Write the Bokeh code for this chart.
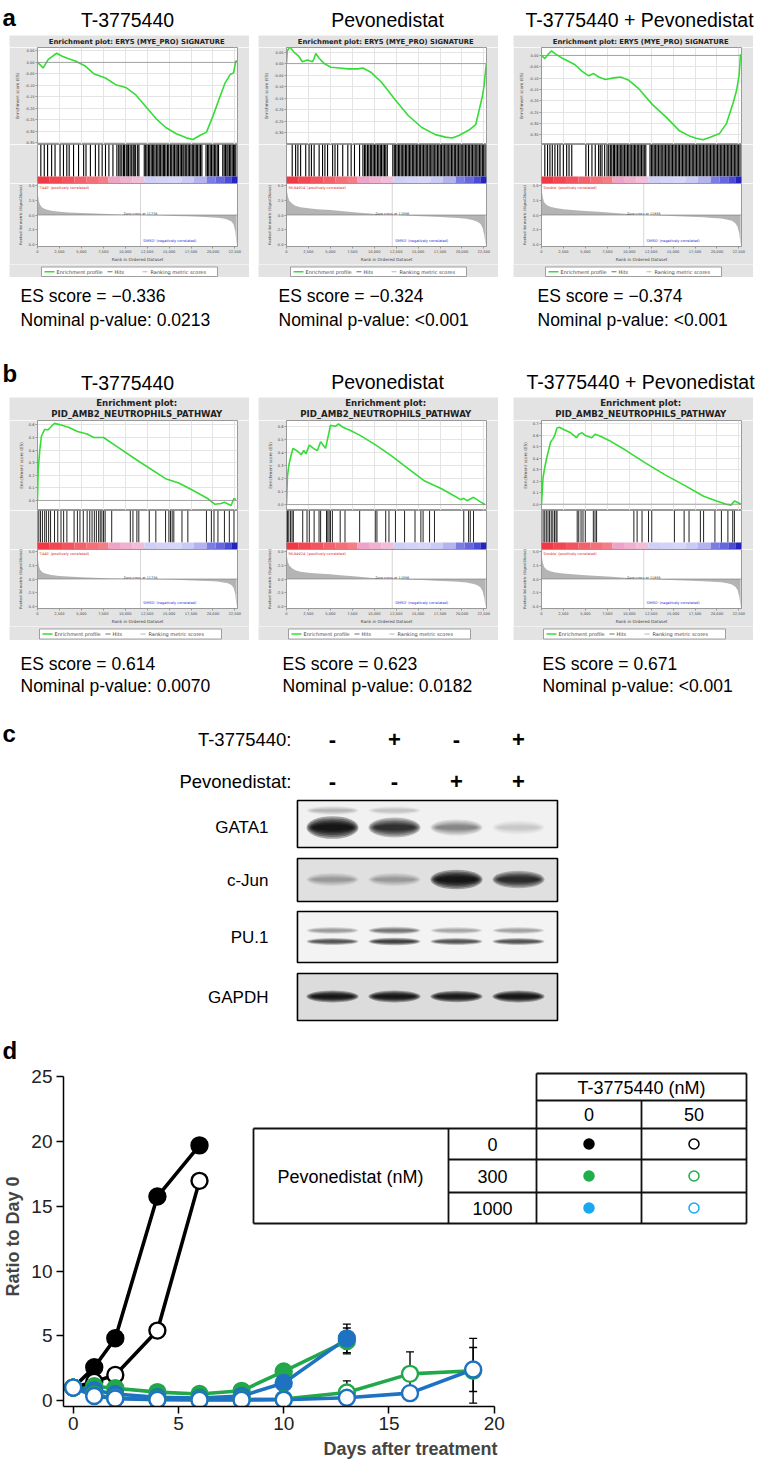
import numpy as np
from bokeh.plotting import figure
from bokeh.layouts import column, row
from bokeh.models import (Range1d, FixedTicker, PrintfTickFormatter, NumeralTickFormatter,
                          Span, Grid, Spacer)
from bokeh.core.properties import value
from bokeh.embed import file_html
from bokeh.resources import INLINE

# ============================ DATA ============================
col_titles = ["T-3775440", "Pevonedistat", "T-3775440 + Pevonedistat"]
es_scores_a = ["\u22120.336", "\u22120.324", "\u22120.374"]
pvals_a = ["0.0213", "<0.001", "<0.001"]
es_scores_b = ["0.614", "0.623", "0.671"]
pvals_b = ["0.0070", "0.0182", "<0.001"]
gsea_title_a = ["Enrichment plot: ERY5 (MYE_PRO) SIGNATURE"]
gsea_title_b = ["Enrichment plot:", "PID_AMB2_NEUTROPHILS_PATHWAY"]
pos_labels = ["'T440' (positively correlated)", "'MLN4924' (positively correlated)",
              "'Double' (positively correlated)"]
neg_label = "'DMSO' (negatively correlated)"
zero_cross = [11738, 12056, 11655]
rank_max = 22800
rank_ticks = [0, 2500, 5000, 7500, 10000, 12500, 15000, 17500, 20000, 22500]
legend_labels = ["Enrichment profile", "Hits", "Ranking metric scores"]

# --- running enrichment score curves (rank, ES) ---
a1_rank = [0, 650, 1230, 2190, 2760, 3530, 4300, 5450, 6410, 7750, 8910, 10060, 11210, 12360, 13510,
           14660, 15820, 16970, 17730, 18500, 19270, 20040, 20810, 21380, 21960, 22340, 22610, 22750]
a1_es = [0.0, -0.024, 0.013, 0.040, 0.028, 0.016, 0.006, -0.016, -0.049, -0.068, -0.097, -0.109, -0.142,
         -0.193, -0.245, -0.285, -0.311, -0.329, -0.336, -0.319, -0.304, -0.230, -0.149, -0.090, -0.053,
         -0.046, 0.006, 0.005]
a2_rank = [0, 80, 380, 840, 1420, 1800, 2380, 2960, 3150, 3340, 3720, 4300, 5070, 6030, 6990, 8140, 8710,
           9670, 10830, 12360, 13900, 15430, 16970, 18120, 18890, 19650, 20810, 21570, 21960, 22340, 22530,
           22780]
a2_es = [0.0, 0.055, 0.073, 0.050, 0.031, 0.008, 0.016, 0.008, 0.023, 0.044, 0.023, 0.0, -0.016, -0.019,
         -0.023, -0.023, -0.019, -0.039, -0.081, -0.156, -0.227, -0.278, -0.309, -0.320, -0.324, -0.313,
         -0.289, -0.266, -0.203, -0.141, -0.094, 0.0]
a3_rank = [0, 380, 770, 1150, 1530, 2300, 3070, 3830, 4600, 5370, 5940, 6520, 7280, 8240, 9010, 9960,
           11110, 12650, 14180, 15710, 16860, 17630, 18400, 19160, 20310, 21080, 21850, 22230, 22530, 22690]
a3_es = [0.0, -0.014, 0.005, 0.020, 0.008, -0.011, -0.026, -0.041, -0.069, -0.090, -0.080, -0.095, -0.106,
         -0.099, -0.095, -0.110, -0.148, -0.217, -0.271, -0.332, -0.355, -0.365, -0.372, -0.362, -0.344,
         -0.301, -0.209, -0.156, -0.087, 0.005]
b1_rank = [0, 75, 260, 447, 820, 1190, 1565, 1940, 2680, 3610, 4545, 5660, 6410, 7530, 9020, 11620, 14600,
           16100, 17590, 19450, 20190, 20940, 21310, 22060, 22400, 22620]
b1_es = [0.0, 0.24, 0.40, 0.51, 0.565, 0.56, 0.587, 0.612, 0.60, 0.58, 0.547, 0.528, 0.50, 0.50, 0.43,
         0.307, 0.173, 0.139, 0.085, 0.013, -0.030, -0.025, -0.015, -0.040, 0.015, 0.008]
b2_rank = [0, 110, 260, 480, 740, 1300, 1670, 1970, 2220, 2600, 3150, 3520, 3890, 4450, 4820, 5010, 5560,
           5930, 6490, 7230, 8340, 10200, 12050, 13900, 15760, 17610, 19100, 19840, 20200, 20580, 21320,
           22060, 22620]
b2_es = [0.0, 0.22, 0.30, 0.37, 0.435, 0.41, 0.385, 0.418, 0.392, 0.46, 0.43, 0.418, 0.486, 0.435, 0.55,
         0.613, 0.605, 0.623, 0.595, 0.575, 0.537, 0.46, 0.372, 0.276, 0.182, 0.124, 0.068, 0.038, 0.048,
         0.030, 0.056, 0.023, 0.0]
b3_rank = [0, 180, 370, 550, 810, 1030, 1290, 1480, 1770, 2030, 2590, 3330, 3990, 4250, 4620, 4990, 5730,
           6100, 6650, 7760, 9610, 11830, 14040, 16260, 18480, 19960, 21060, 21620, 21990, 22360, 22730]
b3_es = [0.0, 0.235, 0.32, 0.39, 0.47, 0.54, 0.57, 0.595, 0.665, 0.671, 0.65, 0.623, 0.58, 0.61, 0.623,
         0.60, 0.58, 0.61, 0.595, 0.554, 0.47, 0.36, 0.258, 0.166, 0.069, 0.028, 0.0, -0.008, 0.028, 0.014,
         0.0]

# --- hit positions (ranks of gene-set members) ---
a1_hits = [380, 770, 1150, 1610, 2000, 2570, 2960, 3340, 3610, 4110, 4680, 5260, 5530, 6030, 6600, 6990,
           7370, 7750, 8140, 8600, 9050, 9260, 9420, 9610, 9800, 9930, 10120, 10290, 10380, 10560, 10740,
           10910, 11030, 11190, 11420, 11560, 12170, 12330, 12480, 12650, 12790, 12960, 13120, 13250, 13400,
           13580, 13720, 13880, 14010, 14190, 14350, 14470, 14640, 14820, 14960, 15150, 15300, 15470, 15620,
           15790, 15930, 16080, 16260, 16410, 16570, 16690, 16850, 17010, 17180, 17320, 17490, 17650, 17800,
           17960, 18110, 18250, 18420, 18580, 18740, 19210, 19380, 19520, 19690, 19840, 20010, 20170, 20320,
           20490, 20640, 21120, 21280, 21430, 21590, 21720, 21880, 22030, 22190, 22340, 22480, 22610]
a2_hits = [650, 1040, 1300, 1610, 2190, 2570, 2840, 3150, 3720, 4110, 4380, 4680, 5260, 5530, 5830, 6410,
           6990, 7370, 7750, 8330, 8710, 8890, 9040, 9230, 9380, 9560, 9710, 9880, 10040, 10190, 10370,
           10520, 10690, 10830, 11010, 11170, 11320, 11490, 12120, 12290, 12440, 12600, 12770, 12910, 13080,
           13240, 13390, 13560, 13700, 13870, 14030, 14180, 14350, 14500, 14660, 14830, 14970, 15140, 15290,
           15460, 15610, 15780, 15930, 16090, 16260, 16400, 16570, 16720, 16890, 17040, 17210, 17360, 17530,
           17680, 17850, 18000, 18170, 18320, 18490, 18640, 18810, 18960, 19130, 19280, 19450, 19600, 19770,
           19920, 20090, 20240, 20410, 20560, 20730, 20880, 21050, 21200, 21370, 21520, 21690, 21840, 22010,
           22160, 22330, 22480, 22640]
a3_hits = [380, 690, 960, 1230, 1530, 1840, 2110, 2490, 2870, 3140, 3450, 5060, 5360, 5750, 6130, 6510, 6700,
           6900, 7200, 7470, 7660, 7850, 8010, 8190, 8320, 8500, 8660, 8830, 8990, 9150, 9300, 9470, 9630,
           9800, 9950, 10110, 10280, 10440, 10600, 10750, 10920, 11080, 11240, 11400, 11570, 11720, 11890,
           12370, 12530, 12690, 12850, 13010, 13170, 13330, 13500, 13650, 13820, 13980, 14140, 14300, 14460,
           14620, 14780, 14940, 15100, 15260, 15420, 15590, 15740, 15910, 16070, 16230, 16390, 16550, 16710,
           16870, 17030, 17190, 17350, 17510, 17670, 17830, 17990, 18150, 18310, 18470, 18630, 18790, 18950,
           19110, 19270, 19430, 19590, 19750, 19910, 20070, 20230, 20390, 20550, 20710, 20870, 21030, 21190,
           21350, 21510, 21670, 21830, 21990, 22150, 22310, 22470, 22630]
b1_hits = [150, 340, 560, 820, 1010, 1270, 1490, 1940, 2310, 2680, 2980, 3350, 4170, 4550, 4840, 5220, 5660,
           5960, 6220, 6480, 6710, 6970, 7150, 7340, 7530, 7710, 8460, 10580, 10880, 11330, 11550, 12740,
           13490, 14600, 14980, 15160, 15350, 15540, 16470, 17140, 19260, 19820, 20120, 20570, 21310, 21870,
           22400]
b2_hits = [110, 260, 450, 630, 780, 1850, 2340, 2600, 3150, 3710, 3890, 4560, 4710, 4860, 5010, 5230, 6120,
           6670, 8340, 10120, 10310, 11310, 11680, 12420, 13460, 14650, 15320, 15570, 16310, 16870, 20210,
           20760, 20950, 21320]
b3_hits = [180, 370, 550, 740, 920, 1110, 1290, 1480, 1660, 1770, 4070, 4250, 4510, 4730, 4990, 5910, 6100,
           6280, 10530, 10900, 11460, 12200, 12570, 15150, 16260, 16820, 18110, 18480, 19770, 20510, 21250,
           21800, 21990]

# --- ranked list metric (signal-to-noise) ---
metric_rank = [0, 50, 150, 300, 600, 1000, 1600, 2500, 3500, 5000, 6500, 8000, 9500, 11000, 12500, 14000,
               15500, 17000, 18500, 19500, 20500, 21200, 21700, 22100, 22350, 22550, 22700]
metric_T = [5.2, 3.6, 2.4, 1.7, 1.2, 0.95, 0.75, 0.55, 0.45, 0.33, 0.24, 0.16, 0.09, 0.03, -0.04, -0.10,
            -0.16, -0.22, -0.30, -0.38, -0.48, -0.62, -0.80, -1.10, -1.60, -2.80, -5.2]
metric_P = [5.2, 4.2, 3.2, 2.5, 2.0, 1.6, 1.35, 1.15, 1.0, 0.85, 0.65, 0.45, 0.25, 0.1, -0.02, -0.12, -0.2,
            -0.3, -0.42, -0.52, -0.65, -0.85, -1.1, -1.5, -2.2, -3.5, -5.2]
metric_D = [5.2, 4.0, 3.0, 2.2, 1.7, 1.4, 1.2, 1.0, 0.85, 0.7, 0.55, 0.4, 0.22, 0.06, -0.06, -0.14, -0.22,
            -0.3, -0.4, -0.5, -0.6, -0.8, -1.0, -1.4, -2.0, -3.2, -5.2]

# --- phenotype colour bar ---
cbar_edges = [0, 1400, 2800, 4200, 5600, 7000, 8100, 9500, 10800, 12200, 13600, 15000, 16400, 17800, 19300,
              20300, 21300, 22100, 22800]
cbar_colors = ["#ef3a45", "#f04752", "#f1545f", "#f2626c", "#f37079", "#f47e88", "#eea4c6", "#f0b0cf",
               "#f2bdd8", "#cdcff5", "#d2d3f7", "#d5d6f8", "#cacbf4", "#b3b4ef", "#7c7de3", "#6667dd",
               "#4b4cd4", "#2324bd"]

# --- panel c: western blot ---
t_signs = ["-", "+", "-", "+"]
pev_signs = ["-", "-", "+", "+"]
blot_proteins = ["GATA1", "c-Jun", "PU.1", "GAPDH"]
gata1_int = [1.0, 0.72, 0.28, 0.08]
gata1_upper_int = [0.14, 0.10, 0.0, 0.0]
cjun_int = [0.18, 0.18, 1.0, 0.75]
pu1_upper_int = [0.22, 0.35, 0.18, 0.2]
pu1_lower_int = [0.5, 0.62, 0.5, 0.5]
gapdh_int = [0.95, 0.95, 0.92, 0.95]

# --- panel d: proliferation ---
days_a = [0, 1, 2, 4, 6]
ctrl_filled = [1.0, 2.57, 4.81, 15.75, 19.7]
ctrl_filled_sd = [0, 0.1, 0.15, 0.3, 0.4]
ctrl_open = [1.0, 1.45, 1.98, 5.4, 16.96]
ctrl_open_sd = [0, 0.1, 0.1, 0.2, 0.3]
days_b = [0, 1, 2, 4, 6, 8, 10, 13]
pev300_filled = [1.0, 1.1, 0.95, 0.65, 0.5, 0.75, 2.25, 4.6]
pev300_filled_sd = [0, 0, 0, 0, 0, 0, 0.1, 1.0]
pev1000_filled = [1.0, 0.8, 0.5, 0.25, 0.2, 0.35, 1.35, 4.8]
pev1000_filled_sd = [0, 0, 0, 0, 0, 0, 0.15, 1.1]
days_c = [0, 1, 2, 4, 6, 8, 10, 13, 16, 19]
pev300_open = [1.0, 0.45, 0.2, 0.1, 0.08, 0.08, 0.12, 0.62, 2.06, 2.3]
pev300_open_sd = [0, 0, 0, 0, 0, 0, 0, 0.9, 1.7, 2.5]
pev1000_open = [1.0, 0.35, 0.15, 0.06, 0.05, 0.05, 0.06, 0.22, 0.57, 2.4]
pev1000_open_sd = [0, 0, 0, 0, 0, 0, 0, 0.1, 0.3, 1.7]
x_ticks_d = [0, 5, 10, 15, 20]
y_ticks_d = [0, 5, 10, 15, 20, 25]
tbl_t_conc = ["0", "50"]
tbl_pev_conc = ["0", "300", "1000"]

# ============================ STYLE ============================
SANS = "Liberation Sans"
GS = "DejaVu Sans"
BOX = "#e3e3e3"
ES_GREEN = "#36dc36"
D_GREEN = "#22a84b"
D_BLUE = "#1f71c2"
T_GREEN = "#1fae4b"
T_BLUE = "#18a8ee"
PAGE_W = 760
W = 240
LB, RB = 28, 12


def mkfig(**kw):
    p = figure(toolbar_location=None, output_backend="svg", **kw)
    if "frame_align" in p.properties():
        p.frame_align = False
    return p


def put_text(p, xs, ys, texts, size, align="left", bold=False, color="black", font=SANS, angle=0,
             baseline="middle", **kw):
    p.text(x=xs, y=ys, text=texts, text_font=value(font), text_font_size=size, text_align=align,
           text_baseline=baseline, text_color=color, text_font_style=("bold" if bold else "normal"),
           angle=angle, **kw)


def strip(y0, y1):
    p = mkfig(width=PAGE_W, height=y1 - y0, x_range=Range1d(0, PAGE_W), y_range=Range1d(y1, y0),
              x_axis_type=None, y_axis_type=None,
              min_border_left=0, min_border_right=0, min_border_top=0, min_border_bottom=0)
    p.outline_line_color = None
    return p


def style_small_axis(ax):
    ax.major_label_text_font = GS
    ax.major_label_text_font_size = "3.6px"
    ax.major_label_text_color = "#444444"
    ax.axis_label_text_font = GS
    ax.axis_label_text_font_size = "4.2px"
    ax.axis_label_text_font_style = "normal"
    ax.axis_label_text_color = "#444444"
    ax.major_tick_out = 2
    ax.major_tick_in = 0
    ax.minor_tick_out = 0
    ax.minor_tick_in = 0
    ax.major_label_standoff = 1
    ax.axis_label_standoff = 1
    ax.axis_line_color = "#999999"
    ax.major_tick_line_color = "#999999"


def gsea(title_lines, title_size, title_ys, es_rank, es_vals, es_lo, es_hi, es_ticks, es_fmt,
         hits, hit_w, hit_color, met_vals, zc, pos_label, hdr_h, es_h, met_h, leg_h, leg_box):
    # header
    hdr = mkfig(width=W, height=hdr_h, x_range=Range1d(0, 1), y_range=Range1d(0, 1),
                x_axis_type=None, y_axis_type=None,
                min_border_left=0, min_border_right=0, min_border_top=0, min_border_bottom=0)
    hdr.outline_line_color = None
    hdr.background_fill_color = BOX
    hdr.border_fill_color = BOX
    put_text(hdr, [0.53] * len(title_lines), title_ys, title_lines, title_size, align="center",
             bold=True, font=GS, color="#222222")

    # enrichment score
    es = mkfig(width=W, height=es_h, x_range=Range1d(0, rank_max), y_range=Range1d(es_lo, es_hi),
               x_axis_type=None,
               min_border_left=LB, min_border_right=RB, min_border_top=0, min_border_bottom=0)
    es.border_fill_color = BOX
    es.outline_line_color = "#999999"
    ya = es.yaxis[0]
    ya.ticker = FixedTicker(ticks=es_ticks)
    ya.formatter = PrintfTickFormatter(format=es_fmt)
    ya.axis_label = "Enrichment score (ES)"
    style_small_axis(ya)
    ya.axis_label_standoff = 2
    es.ygrid.ticker = FixedTicker(ticks=es_ticks)
    es.ygrid.grid_line_color = "#e4e4e4"
    es.add_layout(Grid(dimension=0, ticker=FixedTicker(ticks=rank_ticks), grid_line_color="#e4e4e4"))
    es.add_layout(Span(location=0, dimension="width", line_color="#888888", line_width=0.7))
    es.line(es_rank, es_vals, color=ES_GREEN, line_width=1.6)

    # hits + colour bar
    ht = mkfig(width=W, height=39, x_range=Range1d(0, rank_max), y_range=Range1d(0, 1),
               x_axis_type=None, y_axis_type=None,
               min_border_left=LB, min_border_right=RB, min_border_top=0, min_border_bottom=0)
    ht.border_fill_color = BOX
    ht.outline_line_color = "#999999"
    ht.segment(x0=hits, y0=0.18, x1=hits, y1=1.0, line_color=hit_color, line_width=hit_w)
    ht.quad(left=cbar_edges[:-1], right=cbar_edges[1:], bottom=0, top=0.18, fill_color=cbar_colors,
            line_color=None)

    # ranked list metric
    mt = mkfig(width=W, height=met_h, x_range=Range1d(0, rank_max), y_range=Range1d(-5.4, 5.4),
               min_border_left=LB, min_border_right=RB, min_border_top=0, min_border_bottom=16)
    mt.border_fill_color = BOX
    mt.outline_line_color = "#999999"
    mt.grid.visible = False
    mt.varea(x=metric_rank, y1=0, y2=met_vals, fill_color="#b4b4b4")
    mt.add_layout(Span(location=0, dimension="width", line_color="#777777", line_width=0.6))
    mt.add_layout(Span(location=zc, dimension="height", line_color="#777777", line_width=0.6,
                       line_dash="1 1"))
    put_text(mt, [zc], [0.15], ["Zero cross at %d" % zc], "3.4px", align="center", font=GS,
             color="#333333")
    put_text(mt, [150], [4.55], [pos_label], "3.5px", font=GS, color="#e0262b")
    put_text(mt, [zc + 250], [-4.45], [neg_label], "3.5px", font=GS, color="#2a2ad8")
    xa = mt.xaxis[0]
    xa.ticker = FixedTicker(ticks=rank_ticks)
    xa.formatter = NumeralTickFormatter(format="0,0")
    xa.axis_label = "Rank in Ordered Dataset"
    ya = mt.yaxis[0]
    ya.ticker = FixedTicker(ticks=[-5, -2.5, 0, 2.5, 5])
    ya.formatter = PrintfTickFormatter(format="%.1f")
    ya.axis_label = "Ranked list metric (Signal2Noise)"
    style_small_axis(xa)
    style_small_axis(ya)
    ya.axis_label_text_font_size = "3.6px"

    # legend strip (pixel coordinates of the strip)
    lg = mkfig(width=W, height=leg_h, x_range=Range1d(0, W), y_range=Range1d(0, leg_h),
               x_axis_type=None, y_axis_type=None,
               min_border_left=0, min_border_right=0, min_border_top=0, min_border_bottom=0)
    lg.outline_line_color = None
    lg.background_fill_color = BOX
    lg.border_fill_color = BOX
    bx0, bx1, by0, by1 = leg_box
    ym = (by0 + by1) / 2
    lg.quad(left=[bx0], right=[bx1], bottom=[by0], top=[by1], fill_color="white",
            line_color="#8a8a8a", line_width=0.8)
    lg.segment(x0=[bx0 + 3, bx0 + 66, bx0 + 101], y0=[ym] * 3, x1=[bx0 + 13, bx0 + 71, bx0 + 106],
               y1=[ym] * 3, line_color=[ES_GREEN, "#333333", "#999999"], line_width=[1.5, 0.7, 0.7])
    put_text(lg, [bx0 + 15, bx0 + 73, bx0 + 109], [ym] * 3, legend_labels, "5px", font=GS,
             color="#444444")
    return column(hdr, es, ht, mt, lg, spacing=0)


# ============================ PANEL A / B ============================
hdrA_ys = [0.5]
hdrB_ys = [0.78, 0.30]
legA = (32, 208, 1, 10.5)
legB = (30, 212, 1.5, 11.5)
gA = [
    gsea(gsea_title_a, "6.8px", hdrA_ys, a1_rank, a1_es, -0.358, 0.065,
         [0.05, 0.0, -0.05, -0.1, -0.15, -0.2, -0.25, -0.3, -0.35], "%.2f", a1_hits, 1.1, "black",
         metric_T, zero_cross[0], pos_labels[0], 12, 97, 81, 13, legA),
    gsea(gsea_title_a, "6.8px", hdrA_ys, a2_rank, a2_es, -0.352, 0.07,
         [0.05, 0.0, -0.05, -0.1, -0.15, -0.2, -0.25, -0.3], "%.2f", a2_hits, 1.1, "black",
         metric_P, zero_cross[1], pos_labels[1], 12, 97, 81, 13, legA),
    gsea(gsea_title_a, "6.8px", hdrA_ys, a3_rank, a3_es, -0.393, 0.035,
         [0.0, -0.05, -0.1, -0.15, -0.2, -0.25, -0.3, -0.35], "%.2f", a3_hits, 1.1, "black",
         metric_D, zero_cross[2], pos_labels[2], 12, 97, 81, 13, legA),
]
gB = [
    gsea(gsea_title_b, "8.6px", hdrB_ys, b1_rank, b1_es, -0.08, 0.635,
         [0.0, 0.1, 0.2, 0.3, 0.4, 0.5, 0.6], "%.1f", b1_hits, 1.0, "#222222",
         metric_T, zero_cross[0], pos_labels[0], 23, 90, 77, 14, legB),
    gsea(gsea_title_b, "8.6px", hdrB_ys, b2_rank, b2_es, -0.046, 0.65,
         [0.0, 0.1, 0.2, 0.3, 0.4, 0.5, 0.6], "%.1f", b2_hits, 1.0, "#222222",
         metric_P, zero_cross[1], pos_labels[1], 23, 90, 77, 14, legB),
    gsea(gsea_title_b, "8.6px", hdrB_ys, b3_rank, b3_es, -0.055, 0.73,
         [0.0, 0.1, 0.2, 0.3, 0.4, 0.5, 0.6, 0.7], "%.1f", b3_hits, 1.0, "#222222",
         metric_D, zero_cross[2], pos_labels[2], 23, 90, 77, 14, legB),
]


def gsea_row(cols, h):
    return row(Spacer(width=9, height=h), cols[0], Spacer(width=9, height=h), cols[1],
               Spacer(width=15, height=h), cols[2], Spacer(width=7, height=h), spacing=0)


rowA = gsea_row(gA, 242)
rowB = gsea_row(gB, 244)

# title strip for panel a
s1 = strip(0, 35)
put_text(s1, [2], [17], ["a"], "24px", bold=True, baseline="alphabetic")
put_text(s1, [127, 387, 639], [19, 19, 19], col_titles, "19.5px", align="center")

# strip between a and b
s2 = strip(277, 397)
text_x_a = [20, 278, 537]
put_text(s2, text_x_a, [295] * 3, ["ES score = " + s for s in es_scores_a], "17.5px")
put_text(s2, text_x_a, [319] * 3, ["Nominal p-value: " + s for s in pvals_a], "17.5px")
put_text(s2, [2], [373], ["b"], "24px", bold=True, baseline="alphabetic")
put_text(s2, [127, 387, 640], [382, 381, 381], col_titles, "19.5px", align="center")

# ============================ PANEL C ============================
pc = strip(641, 1066)
pc.extra_x_ranges = {"lane": Range1d(-4.3548, 7.9032)}
text_x_b = [20, 282, 542]
put_text(pc, text_x_b, [663] * 3, ["ES score = " + s for s in es_scores_b], "17.5px")
put_text(pc, text_x_b, [685] * 3, ["Nominal p-value: " + s for s in pvals_b], "17.5px")
put_text(pc, [2], [733], ["c"], "24px", bold=True, baseline="alphabetic")
put_text(pc, [291, 291], [739, 781], ["T-3775440:", "Pevonedistat:"], "18.5px", align="right")
lanes = [1, 2, 3, 4]
put_text(pc, lanes, [739] * 4, t_signs, "22px", align="center", bold=True, x_range_name="lane")
put_text(pc, lanes, [781] * 4, pev_signs, "22px", align="center", bold=True, x_range_name="lane")
put_text(pc, [2], [1063], ["d"], "24px", bold=True, baseline="bottom")

row_centers = [823.5, 879.5, 936.5, 996.5]
row_heights = [47, 43, 51, 47]
row_fills = ["#f1f1f1", "#e0e0e0", "#f3f3f3", "#dcdcdc"]
put_text(pc, [268] * 4, [827, 880, 937, 997], blot_proteins, "17px", align="right")
pc.rect(x=[2.532] * 4, y=row_centers, width=[4.194] * 4, height=row_heights, fill_color=row_fills,
        line_color="black", line_width=1.6, x_range_name="lane")

band_layers = [(0.84, 1.5), (0.80, 1.25), (0.76, 1.0), (0.72, 0.8), (0.68, 0.6), (0.64, 0.4)]


def bands(intensity, y, base_h):
    for (wl, hf) in band_layers:
        hs = [base_h * hf * (0.6 + 0.4 * i) for i in intensity]
        al = [min(1.0, 0.32 * i) for i in intensity]
        pc.ellipse(x=lanes, y=[y] * 4, width=[wl] * 4, height=hs, fill_color="black", fill_alpha=al,
                   line_color=None, x_range_name="lane")


bands(gata1_upper_int, 810, 9)
bands(gata1_int, 827, 15)
bands(cjun_int, 879, 13)
bands(pu1_upper_int, 930, 7)
bands(pu1_lower_int, 941, 6)
bands(gapdh_int, 996, 8)

# ============================ PANEL D ============================
pd_ = mkfig(width=PAGE_W, height=400, x_range=Range1d(-0.4608, 32.508), y_range=Range1d(-0.46, 25.79),
            min_border_left=63, min_border_right=3, min_border_top=0, min_border_bottom=60)
pd_.outline_line_color = None
pd_.grid.visible = False
pd_.extra_x_ranges = {"tx": Range1d(63, 757)}
pd_.extra_y_ranges = {"ty": Range1d(1406, 1066)}
pd_.xaxis.bounds = (-0.4608, 20)
pd_.yaxis.bounds = (-0.46, 25)
pd_.xaxis.ticker = FixedTicker(ticks=x_ticks_d)
pd_.yaxis.ticker = FixedTicker(ticks=y_ticks_d)
pd_.xaxis.axis_label = "Days after treatment"
pd_.yaxis.axis_label = "Ratio to Day 0"
for ax in (pd_.xaxis[0], pd_.yaxis[0]):
    ax.major_label_text_font = SANS
    ax.major_label_text_font_size = "19px"
    ax.major_label_text_color = "#222222"
    ax.axis_label_text_font = SANS
    ax.axis_label_text_font_size = "18px"
    ax.axis_label_text_font_style = "bold"
    ax.axis_line_width = 1.5
    ax.major_tick_line_width = 1.5
    ax.major_tick_out = 7
    ax.major_tick_in = 0
    ax.minor_tick_out = 0
    ax.minor_tick_in = 0
pd_.xaxis.major_label_standoff = 3
pd_.xaxis.axis_label_standoff = 6
pd_.yaxis.major_label_standoff = 4
pd_.yaxis.axis_label_standoff = 5

series = [
    (days_c, pev300_open, pev300_open_sd, D_GREEN, False),
    (days_c, pev1000_open, pev1000_open_sd, D_BLUE, False),
    (days_b, pev300_filled, pev300_filled_sd, D_GREEN, True),
    (days_b, pev1000_filled, pev1000_filled_sd, D_BLUE, True),
    (days_a, ctrl_open, ctrl_open_sd, "black", False),
    (days_a, ctrl_filled, ctrl_filled_sd, "black", True),
]
for d, v, s, c, f in series:
    pd_.line(d, v, line_color=c, line_width=3.6)
for d, v, s, c, f in series:
    d_ = np.array(d, float)
    v_ = np.array(v, float)
    s_ = np.array(s, float)
    m = s_ > 0
    if m.any():
        pd_.segment(x0=d_[m], y0=v_[m] - s_[m], x1=d_[m], y1=v_[m] + s_[m], line_color="black",
                    line_width=1.4)
        pd_.scatter(x=np.concatenate([d_[m], d_[m]]), y=np.concatenate([v_[m] - s_[m], v_[m] + s_[m]]),
                    marker="dash", size=8, line_color="black", line_width=1.4)
marker_order = [5, 4, 2, 3, 0, 1]
for k in marker_order:
    d, v, s, c, f = series[k]
    pd_.scatter(x=d, y=v, marker="circle", size=16, fill_color=(c if f else "white"), line_color=c,
                line_width=2.4)

# legend table (drawn in the frame's pixel grid)
tbl_x0 = [536, 536, 253, 448, 448, 253, 536, 746, 641, 253, 448]
tbl_y0 = [1073, 1100, 1128, 1159, 1192, 1223, 1073, 1073, 1100, 1128, 1128]
tbl_x1 = [746, 746, 746, 746, 746, 746, 536, 746, 641, 253, 448]
tbl_y1 = [1073, 1100, 1128, 1159, 1192, 1223, 1223, 1223, 1223, 1223, 1223]
pd_.segment(x0=tbl_x0, y0=tbl_y0, x1=tbl_x1, y1=tbl_y1, line_color="#111111", line_width=1.8,
            x_range_name="tx", y_range_name="ty")
tkw = dict(x_range_name="tx", y_range_name="ty")
put_text(pd_, [641], [1087], ["T-3775440 (nM)"], "18px", align="center", **tkw)
put_text(pd_, [588.5, 693.5], [1114, 1114], tbl_t_conc, "18px", align="center", **tkw)
put_text(pd_, [350], [1176], ["Pevonedistat (nM)"], "18px", align="center", **tkw)
put_text(pd_, [492, 492, 492], [1144, 1176, 1208], tbl_pev_conc, "18px", align="center", **tkw)
tbl_colors = ["black", T_GREEN, T_BLUE]
tbl_rows_y = [1143.5, 1175.5, 1207.5]
pd_.scatter(x=[588.5] * 3, y=tbl_rows_y, marker="circle", size=10, fill_color=tbl_colors,
            line_color=tbl_colors, line_width=1.5, **tkw)
pd_.scatter(x=[693.5] * 3, y=tbl_rows_y, marker="circle", size=10, fill_color="white",
            line_color=tbl_colors, line_width=1.5, **tkw)

# ============================ LAYOUT ============================
layout = column(s1, rowA, s2, rowB, pc, pd_, spacing=0)
with open("out.html", "w") as fh:
    fh.write(file_html(layout, INLINE))
